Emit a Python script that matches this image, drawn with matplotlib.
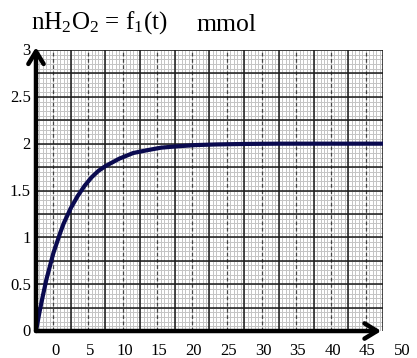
import numpy as np
import matplotlib
matplotlib.use("Agg")
from matplotlib import pyplot as plt

# values (t, n in mmol)
t_vals = [0, 0.5, 1, 1.5, 2, 2.5, 3, 3.5, 4, 5, 6, 7, 8, 9, 10, 12, 14, 16, 18,
          20, 23, 26, 30, 35, 40, 45, 50]
n_vals = [0, 0.20, 0.38, 0.55, 0.69, 0.83, 0.94, 1.05, 1.15, 1.31, 1.44, 1.55,
          1.64, 1.71, 1.76, 1.84, 1.90, 1.93, 1.957, 1.97, 1.985, 1.992, 1.997,
          2.0, 2.0, 2.0, 2.0]

x_labels = ["0", "5", "10", "15", "20", "25", "30", "35", "40", "45", "50"]
y_labels = ["0", "0.5", "1", "1.5", "2", "2.5", "3"]

plt.rcParams['font.family'] = ['Liberation Serif', 'DejaVu Serif']
plt.rcParams['mathtext.fontset'] = 'custom'
plt.rcParams['mathtext.rm'] = 'Liberation Serif'
plt.rcParams['mathtext.it'] = 'Liberation Serif'
plt.rcParams['mathtext.default'] = 'rm'

fig = plt.figure(figsize=(4.17, 3.58), dpi=100)
ax = fig.add_axes([0.0863, 0.0754, 0.8321, 0.7849])
ax.set_xlim(0, 50)
ax.set_ylim(0, 3)

# graph paper
for x in np.arange(0, 50.01, 0.5):
    ax.axvline(x, color='#c4c4c4', lw=0.7, zorder=1)
for y in np.arange(0, 3.001, 0.05):
    ax.axhline(y, color='#c4c4c4', lw=0.7, zorder=1)
for x in np.arange(2.5, 50, 5):
    ax.axvline(x, color='#444444', lw=0.9, ls=(0, (3, 2)), zorder=2)
for x in np.arange(5, 50.01, 5):
    ax.axvline(x, color='#1a1a1a', lw=1.1, zorder=2)
for y in np.arange(0.25, 3.001, 0.25):
    ax.axhline(y, color='#1a1a1a', lw=1.1, zorder=2)

for s in ax.spines.values():
    s.set_visible(False)
ax.set_xticks([])
ax.set_yticks([])

ax.plot(t_vals, n_vals, color='#0a0a50', lw=3, zorder=4, solid_capstyle='round')

# axes arrows
arrow = dict(arrowstyle='->,head_length=0.9,head_width=0.55', lw=3.2, color='black',
             shrinkA=0, shrinkB=0)
ax.annotate('', xy=(0, 1.01), xytext=(0, 0), xycoords='axes fraction',
            arrowprops=arrow, annotation_clip=False, zorder=5)
ax.annotate('', xy=(0.995, 0), xytext=(0, 0), xycoords='axes fraction',
            arrowprops=arrow, annotation_clip=False, zorder=5)

for i, lab in enumerate(y_labels):
    ax.text(-0.015, i / 6 - 0.005, lab, transform=ax.transAxes, ha='right',
            va='center', fontsize=12)
for i, lab in enumerate(x_labels):
    ax.text(0.055 + i * 0.1, -0.1, lab, transform=ax.transAxes, ha='center',
            va='bottom', fontsize=12, clip_on=False)

# title pieces: plain text with mathtext subscripts, then the unit
fig.text(0.075, 0.90, r"nH$_2$O$_2$ = f$_1$(t)", fontsize=18, ha='left', va='bottom')
fig.text(0.472, 0.90, "mmol", fontsize=18.5, ha='left', va='bottom')

fig.savefig("out.png", dpi=100)
